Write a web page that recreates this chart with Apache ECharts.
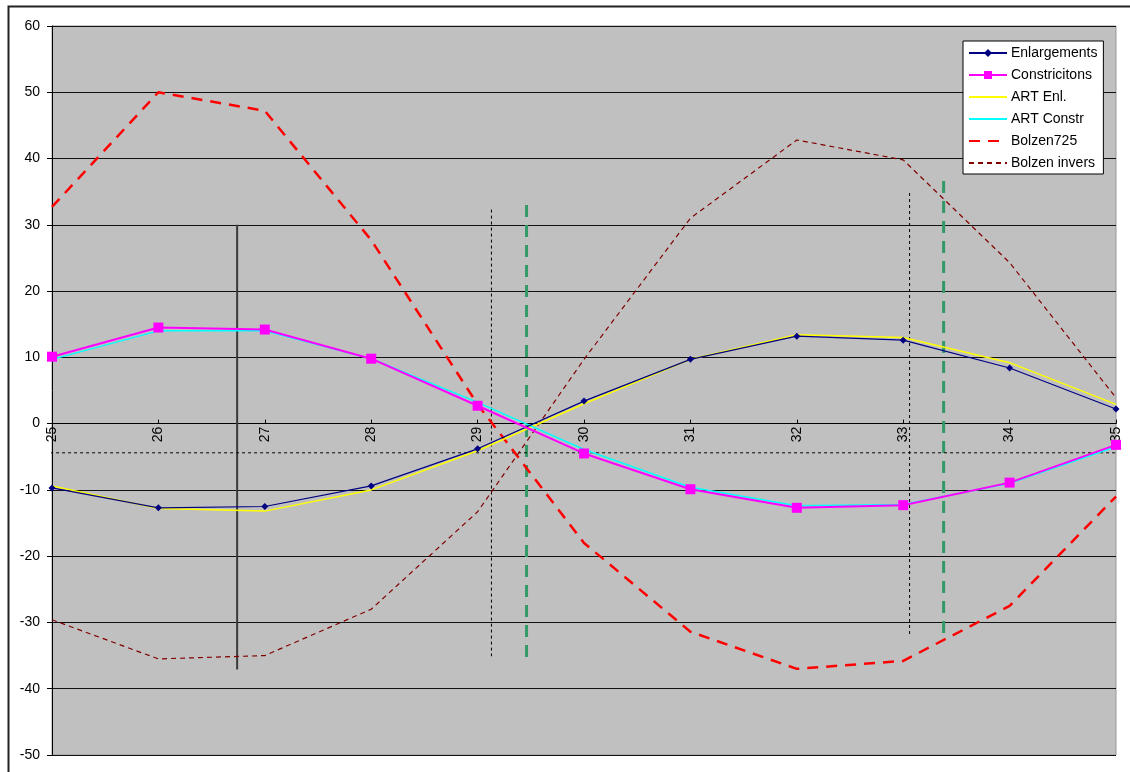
<!DOCTYPE html>
<html>
<head>
<meta charset="utf-8">
<script src="https://cdn.jsdelivr.net/npm/echarts@6/dist/echarts.min.js"></script>
<style>
html,body{margin:0;padding:0;background:#fff;}
#chart{width:1130px;height:772px;}
</style>
</head>
<body>
<div id="chart"></div>
<script>
const xValues = [25, 26, 27, 28, 29, 30, 31, 32, 33, 34, 35];
const enlargements = [-9.7, -12.7, -12.5, -9.4, -3.8, 3.4, 9.7, 13.2, 12.6, 8.4, 2.2];
const constrictions = [10.1, 14.5, 14.2, 9.8, 2.7, -4.5, -9.9, -12.7, -12.3, -8.9, -3.2];
const artEnl = [-9.4, -12.8, -13.2, -10.0, -4.1, 3.0, 9.7, 13.4, 13.0, 9.2, 2.9];
const artConstr = [9.7, 14.0, 14.0, 9.8, 3.2, -3.9, -9.6, -12.4, -12.2, -9.0, -3.5];
const bolzen725 = [32.7, 50.0, 47.2, 27.7, 2.9, -18.0, -31.4, -37.0, -35.8, -27.5, -11.0];
const bolzenInvers = [-29.6, -35.5, -35.0, -28.0, -13.3, 9.7, 31.0, 42.8, 39.8, 24.3, 3.9];
const seriesNames = ['Enlargements', 'Constricitons', 'ART Enl.', 'ART Constr', 'Bolzen725', 'Bolzen invers'];
const yMin = -50, yMax = 60;

// reference lines drawn on the chart
const solidMarker = [[26.74, 30.0], [26.74, -37.1]];
const dottedMarker1 = [[29.13, 32.3], [29.13, -35.1]];
const dottedMarker2 = [[33.06, 34.8], [33.06, -32.1]];
const greenMarker1 = [[29.46, 33.0], [29.46, -36.0]];
const greenMarker2 = [[33.38, 36.6], [33.38, -32.6]];
const horizontalDotted = [[24.70, -4.4], [35.12, -4.4]];

function pairs(vals) { return xValues.map((x, i) => [x, vals[i]]); }

const W = 1130, H = 772;
const gridTop = 26, gridBottom = 17;
const plotH = H - gridTop - gridBottom;
// x axis sits on y = 0
const xAxisOffset = -plotH * (0 - yMin) / (yMax - yMin);

const chart = echarts.init(document.getElementById('chart'), null, {renderer: 'canvas'});
const font = 'Liberation Sans, Arial, sans-serif';

function refLine(data, color, width, type) {
  return {
    type: 'line', data: data, symbol: 'none', silent: true, clip: false,
    lineStyle: {color: color, width: width, type: type}, z: 1, animation: false
  };
}
const noMarker = {color: 'rgba(0,0,0,0)', opacity: 0, borderWidth: 0};

chart.setOption({
  animation: false,
  backgroundColor: '#fff',
  textStyle: {fontFamily: font},
  graphic: [{
    type: 'rect', left: 6, top: 4, shape: {width: 1140, height: 790},
    style: {fill: 'none', stroke: '#222', lineWidth: 2}, z: 100
  }],
  grid: {
    left: 52, right: 14, top: gridTop, bottom: gridBottom, show: true,
    backgroundColor: '#c0c0c0', borderColor: '#999', borderWidth: 1
  },
  legend: {
    data: [
      {name: 'Enlargements'},
      {name: 'Constricitons'},
      {name: 'ART Enl.', itemStyle: noMarker},
      {name: 'ART Constr', itemStyle: noMarker},
      {name: 'Bolzen725', itemStyle: noMarker},
      {name: 'Bolzen invers', itemStyle: noMarker}
    ],
    orient: 'vertical', left: 963, top: 41,
    backgroundColor: '#fff', borderColor: '#000', borderWidth: 1,
    padding: [5, 6, 4, 5], itemGap: 8, itemWidth: 38, itemHeight: 10,
    textStyle: {fontFamily: font, fontSize: 14, color: '#000', padding: [0, 0, 0, -1]}
  },
  xAxis: {
    type: 'value', min: 25, max: 35, interval: 1,
    offset: xAxisOffset,
    axisLine: {show: true, onZero: false, lineStyle: {color: '#000', width: 1}},
    axisTick: {show: true, inside: true, length: 4, lineStyle: {color: '#000'}},
    axisLabel: {rotate: 90, margin: 3, fontSize: 14, color: '#000', fontFamily: font},
    splitLine: {show: false}
  },
  yAxis: {
    type: 'value', min: yMin, max: yMax, interval: 10,
    axisLine: {show: true, lineStyle: {color: '#000', width: 1}},
    axisTick: {show: true, length: 5, lineStyle: {color: '#000'}},
    axisLabel: {margin: 12, fontSize: 14, color: '#000', fontFamily: font},
    splitLine: {show: true, lineStyle: {color: '#111', width: 1}}
  },
  series: [
    refLine(solidMarker, '#3a3a3a', 2, 'solid'),
    refLine(dottedMarker1, '#000', 1, [3, 3]),
    refLine(dottedMarker2, '#000', 1, [3, 3]),
    refLine(greenMarker1, '#339966', 3, [12, 8]),
    refLine(greenMarker2, '#339966', 3, [12, 8]),
    refLine(horizontalDotted, '#000', 1, [3, 3]),
    {
      name: 'Enlargements', type: 'line', data: pairs(enlargements),
      symbol: 'diamond', symbolSize: 7, showAllSymbol: true,
      itemStyle: {color: '#000080'}, lineStyle: {color: '#000080', width: 1.2}, z: 5
    },
    {
      name: 'Constricitons', type: 'line', data: pairs(constrictions),
      symbol: 'rect', symbolSize: 10, showAllSymbol: true,
      itemStyle: {color: '#ff00ff'}, lineStyle: {color: '#ff00ff', width: 2}, z: 5
    },
    {
      name: 'ART Enl.', type: 'line', data: pairs(artEnl), symbol: 'none',
      itemStyle: {color: '#ffff00'}, lineStyle: {color: '#ffff00', width: 1.5}, z: 4
    },
    {
      name: 'ART Constr', type: 'line', data: pairs(artConstr), symbol: 'none',
      itemStyle: {color: '#00ffff'}, lineStyle: {color: '#00ffff', width: 1.5}, z: 4
    },
    {
      name: 'Bolzen725', type: 'line', data: pairs(bolzen725), symbol: 'none',
      itemStyle: {color: '#ff0000'}, lineStyle: {color: '#ff0000', width: 2.5, type: [11, 8]}, z: 3
    },
    {
      name: 'Bolzen invers', type: 'line', data: pairs(bolzenInvers), symbol: 'none',
      itemStyle: {color: '#800000'}, lineStyle: {color: '#800000', width: 1.2, type: [5, 4]}, z: 3
    }
  ]
});
</script>
</body>
</html>
